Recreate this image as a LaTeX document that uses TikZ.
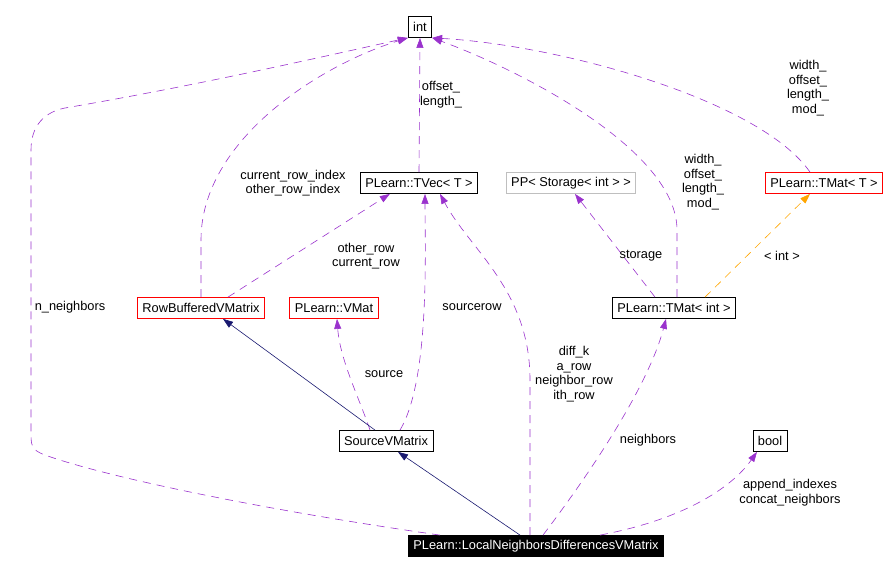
\documentclass[tikz,border=0pt]{standalone}
\usepackage{fontspec}
\setmainfont{Liberation Sans}
\usetikzlibrary{arrows.meta}
\definecolor{usecol}{HTML}{9A32CD}
\definecolor{inhcol}{HTML}{191970}
\definecolor{tplcol}{HTML}{FFA500}
\definecolor{greycol}{HTML}{BFBFBF}

\begin{document}
\begin{tikzpicture}[x=1pt,y=-1pt,>={Triangle[length=10pt,width=7pt]},
  font=\fontsize{12.8}{14.7}\selectfont]
  \tikzstyle{cls}=[draw=black,line width=0.8pt,rectangle,minimum height=21pt,inner xsep=5pt,inner ysep=0pt]
  \tikzstyle{use}=[->,draw=usecol,fill=none,dash pattern=on 8pt off 6pt,line width=0.6pt]
  \tikzstyle{inh}=[->,draw=inhcol,line width=0.6pt]
  \tikzstyle{lbl}=[align=center,inner sep=0pt]
  \useasboundingbox (0,0) rectangle (889,572);
  % classes
  \node[cls] (int) at (420,27) {int};
  \node[cls] (TVec) at (419,183) {PLearn::TVec< T >};
  \node[cls,draw=greycol] (PPS) at (571,183) {PP< Storage< int > >};
  \node[cls,draw=red] (TMatT) at (824,183) {PLearn::TMat< T >};
  \node[cls,draw=red] (RBVM) at (201,308) {RowBufferedVMatrix};
  \node[cls,draw=red] (VMat) at (334,308) {PLearn::VMat};
  \node[cls] (TMatI) at (674,308) {PLearn::TMat< int >};
  \node[cls] (SVM) at (386,441) {SourceVMatrix};
  \node[cls] (bool) at (770,441) {bool};
  \node[cls,fill=black,text=white] (LNDV) at (536,546) {PLearn::LocalNeighborsDifferencesVMatrix};
  % uses to int
  \draw[use] ([xshift=-96pt]LNDV.north) .. controls (250,508) and (100,475) .. (45,455)
    .. controls (31,450) and (31,445) .. (31,432) -- (31,150)
    .. controls (31,125) and (45,112) .. (65,108) .. controls (200,85) and (330,55) .. (int.south west);
  \draw[use] (RBVM.north) -- (201,240) .. controls (201,140) and (320,65) .. (int.south west);
  \draw[use] (TVec.north) -- (int.south);
  \draw[use] ([xshift=3pt]TMatI.north) -- (677,230) .. controls (677,150) and (520,70) .. (int.south east);
  \draw[use] ([xshift=-14pt]TMatT.north) .. controls (760,100) and (560,45) .. (int.south east);
  % uses to TVec
  \draw[use] ([xshift=27pt]RBVM.north) -- ([xshift=30pt]TVec.south west);
  \draw[use] ([xshift=14pt]SVM.north) .. controls (430,380) and (425,250) .. ([xshift=6pt]TVec.south);
  \draw[use] ([xshift=-6pt]LNDV.north) -- (530,380) .. controls (530,290) and (470,250) .. ([xshift=21pt]TVec.south);
  % other uses
  \draw[use] ([xshift=-19pt]TMatI.north) -- ([xshift=4pt]PPS.south);
  \draw[use] ([xshift=-16pt]SVM.north) .. controls (360,400) and (340,360) .. ([xshift=3pt]VMat.south);
  \draw[use] ([xshift=7pt]LNDV.north) .. controls (600,460) and (650,380) .. ([xshift=-8pt]TMatI.south);
  \draw[use] ([xshift=64pt]LNDV.north) .. controls (680,520) and (730,490) .. ([xshift=-13pt]bool.south);
  % template
  \draw[->,draw=tplcol,dash pattern=on 8pt off 6pt,line width=0.6pt] ([xshift=31pt]TMatI.north) -- ([xshift=-14pt]TMatT.south);
  % inheritance
  \draw[inh] ([xshift=-11pt]SVM.north) -- ([xshift=22pt]RBVM.south);
  \draw[inh] ([xshift=-16pt]LNDV.north) -- ([xshift=12pt]SVM.south);
  % labels
  \node[lbl] (l1) at (70,307) {n\_neighbors};
  \node[lbl] (l2) at (293,183) {current\_row\_index\\other\_row\_index};
  \node[lbl] (l3) at (441,95) {offset\_\\length\_};
  \node[lbl] (l4) at (703,182) {width\_\\offset\_\\length\_\\mod\_};
  \node[lbl] (l5) at (808,88) {width\_\\offset\_\\length\_\\mod\_};
  \node[lbl] (l6) at (366,256) {other\_row\\current\_row};
  \node[lbl] (l7) at (472,307) {sourcerow};
  \node[lbl] (l8) at (574,374) {diff\_k\\a\_row\\neighbor\_row\\ith\_row};
  \node[lbl] (l9) at (641,256) {storage};
  \node[lbl] (l10) at (782,256) {< int >};
  \node[lbl] (l11) at (384,374) {source};
  \node[lbl] (l12) at (648,440) {neighbors};
  \node[lbl] (l13) at (790,493) {append\_indexes\\concat\_neighbors};
\end{tikzpicture}
\end{document}
